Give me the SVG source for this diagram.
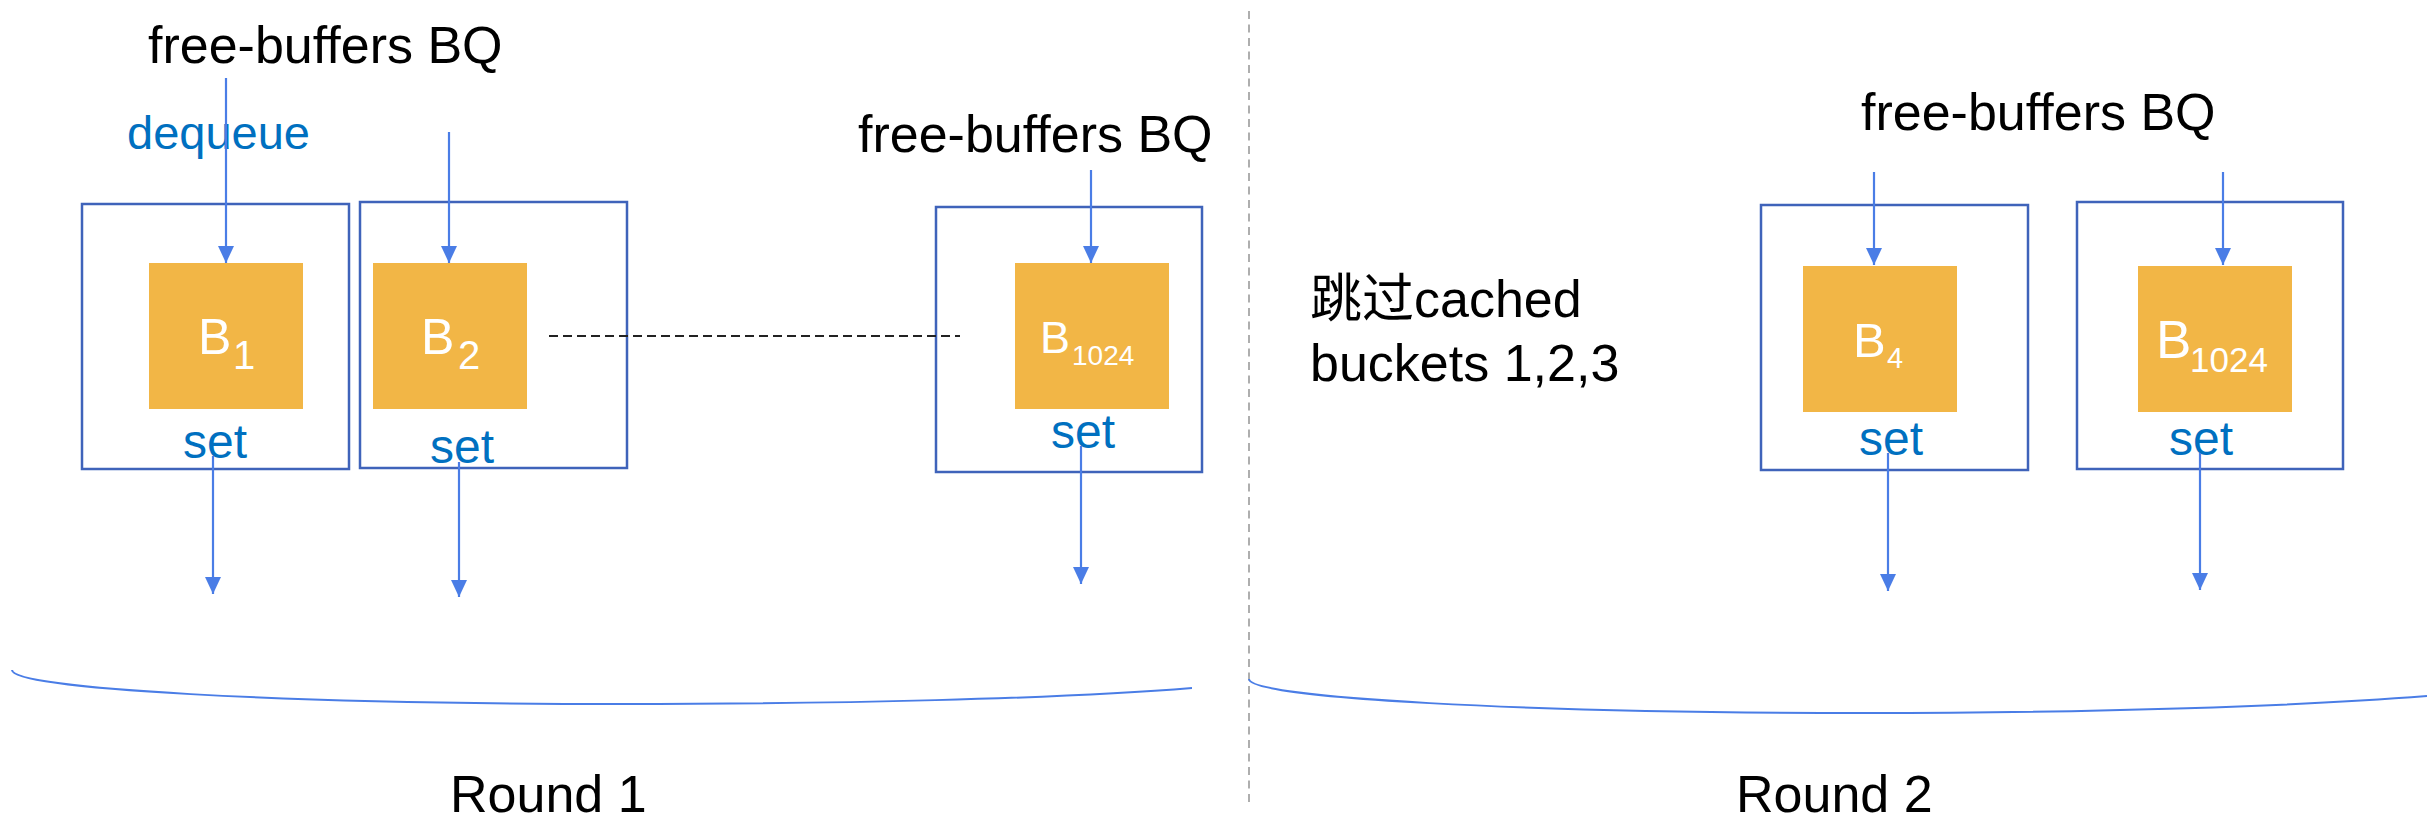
<svg xmlns="http://www.w3.org/2000/svg" width="2427" height="824" viewBox="0 0 2427 824">
  <style>
    text { font-family: "Liberation Sans", Arial, sans-serif; }
    .title { font-size: 52px; fill: #000000; }
    .op { font-size: 48px; fill: #0070C0; }
    .slot { fill: #FFFFFF; stroke: #3F63BA; stroke-width: 2.5; }
    .buf { fill: #F2B646; }
    .bl { fill: #FFFFFF; }
    .flow { stroke: #4A7DE6; stroke-width: 2.2; fill: none; }
    .span { stroke: #4A7DE6; stroke-width: 2; fill: none; }
    .gap { stroke: #222222; stroke-width: 2; stroke-dasharray: 9 5; fill: none; }
    .split { stroke: #A6A6A6; stroke-width: 1.8; stroke-dasharray: 8 5.5; fill: none; }
  </style>
  <defs>
    <marker id="head" markerUnits="userSpaceOnUse" markerWidth="18" markerHeight="18" refX="17" refY="8" orient="auto">
      <path d="M0,0 L17,8 L0,16 Z" fill="#4A7DE6"/>
    </marker>
  </defs>

  <rect width="2427" height="824" fill="#FFFFFF"/>

  <!-- divider between the two rounds -->
  <line class="split" x1="1249" y1="11" x2="1249" y2="804"/>

  <!-- round 1 -->
  <g id="round1-labels">
    <text class="title" x="148" y="63">free-buffers BQ</text>
    <text x="127" y="149" font-size="47" fill="#0070C0">dequeue</text>
    <text class="title" x="858" y="152">free-buffers BQ</text>
    <text class="title" x="450" y="812">Round 1</text>
  </g>

  <g id="bucket-1">
    <rect class="slot" x="82" y="204" width="267" height="265"/>
    <rect class="buf" x="149" y="263" width="154" height="146"/>
    <text class="bl" x="198" y="354" font-size="50">B</text>
    <text class="bl" x="233" y="369" font-size="40">1</text>
    <text class="op" x="183" y="458">set</text>
  </g>

  <g id="bucket-2">
    <rect class="slot" x="360" y="202" width="267" height="266"/>
    <rect class="buf" x="373" y="263" width="154" height="146"/>
    <text class="bl" x="421" y="354" font-size="50">B</text>
    <text class="bl" x="458" y="369" font-size="40">2</text>
    <text class="op" x="430" y="463">set</text>
  </g>

  <g id="bucket-1024">
    <rect class="slot" x="936" y="207" width="266" height="265"/>
    <rect class="buf" x="1015" y="263" width="154" height="146"/>
    <text class="bl" x="1040" y="353" font-size="45">B</text>
    <text class="bl" x="1072" y="365" font-size="28">1024</text>
    <text class="op" x="1051" y="448">set</text>
  </g>

  <!-- round 2 -->
  <g id="round2-labels">
    <text class="title" x="1310" y="317" style="font-family: 'Liberation Sans', 'Noto Sans CJK SC', sans-serif">跳过cached</text>
    <text class="title" x="1310" y="381">buckets 1,2,3</text>
    <text class="title" x="1861" y="130">free-buffers BQ</text>
    <text class="title" x="1736" y="812">Round 2</text>
  </g>

  <g id="bucket-4">
    <rect class="slot" x="1761" y="205" width="267" height="265"/>
    <rect class="buf" x="1803" y="266" width="154" height="146"/>
    <text class="bl" x="1853" y="357" font-size="49">B</text>
    <text class="bl" x="1887" y="368" font-size="29">4</text>
    <text class="op" x="1859" y="455">set</text>
  </g>

  <g id="bucket-1024-r2">
    <rect class="slot" x="2077" y="202" width="266" height="267"/>
    <rect class="buf" x="2138" y="266" width="154" height="146"/>
    <text class="bl" x="2156" y="358" font-size="53">B</text>
    <text class="bl" x="2190" y="372" font-size="35">1024</text>
    <text class="op" x="2169" y="455">set</text>
  </g>

  <g id="connectors">
    <!-- dequeue from the free-buffers queue -->
    <line class="flow" x1="226" y1="78" x2="226" y2="263" marker-end="url(#head)"/>
    <line class="flow" x1="449" y1="132" x2="449" y2="263" marker-end="url(#head)"/>
    <line class="flow" x1="1091" y1="170" x2="1091" y2="263" marker-end="url(#head)"/>
    <line class="flow" x1="1874" y1="172" x2="1874" y2="265" marker-end="url(#head)"/>
    <line class="flow" x1="2223" y1="172" x2="2223" y2="265" marker-end="url(#head)"/>
    <!-- set outputs -->
    <line class="flow" x1="213" y1="456" x2="213" y2="594" marker-end="url(#head)"/>
    <line class="flow" x1="459" y1="462" x2="459" y2="597" marker-end="url(#head)"/>
    <line class="flow" x1="1081" y1="446" x2="1081" y2="584" marker-end="url(#head)"/>
    <line class="flow" x1="1888" y1="453" x2="1888" y2="591" marker-end="url(#head)"/>
    <line class="flow" x1="2200" y1="453" x2="2200" y2="590" marker-end="url(#head)"/>
    <!-- skipped buckets -->
    <line class="gap" x1="549" y1="336" x2="960" y2="336"/>
    <!-- round brackets -->
    <path class="span" d="M12,670 C12,689 285,704 622,704 C830,704 1060,699 1192,688"/>
    <path class="span" d="M1249,679 C1249,698 1525,713 1865,713 C2100,713 2300,706 2427,696"/>
  </g>
</svg>
